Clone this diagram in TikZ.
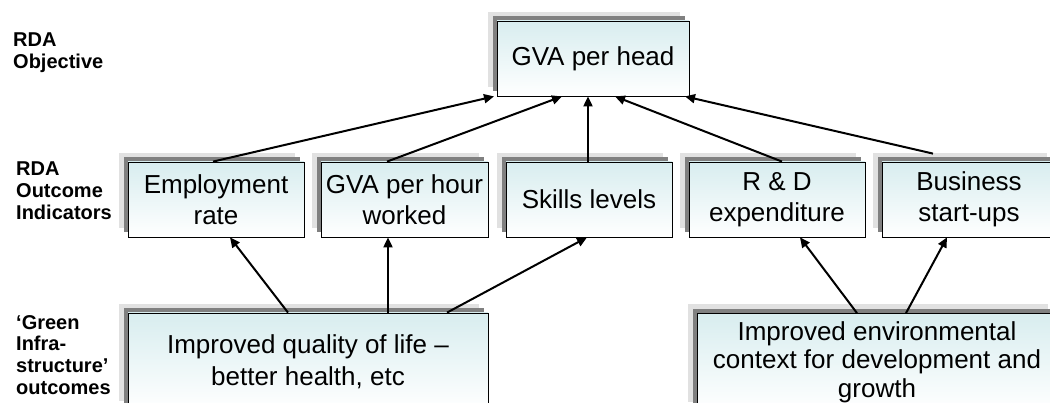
\documentclass[tikz,border=0pt]{standalone}
\usepackage{fontspec}
\setmainfont{Liberation Sans}
\usetikzlibrary{arrows.meta,shadows,calc}

\definecolor{boxtop}{RGB}{216,237,239}
\definecolor{shadowlight}{RGB}{225,225,225}
\definecolor{shadowdark}{RGB}{128,128,128}

\tikzset{
  measure/.style={draw=black, line width=0.8pt, top color=boxtop, bottom color=white,
    inner sep=0pt, align=center,
    general shadow={fill=shadowlight, shadow xshift=-9pt, shadow yshift=9pt},
    general shadow={fill=shadowdark, shadow xshift=-4.5pt, shadow yshift=4.5pt}},
  midbox/.style={measure, minimum height=75pt, font=\fontsize{26}{31}\selectfont},
  greenbox/.style={measure, minimum width=360pt, minimum height=97pt},
  tier/.style={anchor=north west, inner sep=0pt, align=left,
    font=\bfseries\fontsize{20}{21.7}\selectfont},
  link/.style={line width=2pt, -{Triangle[length=10pt,width=9pt]}},
}

\begin{document}
\begin{tikzpicture}[x=1pt,y=-1pt]
\useasboundingbox (0,0) rectangle (1050,403);
\clip (0,0) rectangle (1050,403);

% tier labels
\node[tier] (lobj) at (13,32.5) {RDA\\Objective};
\node[tier] (lind) at (16,162) {RDA\\Outcome\\Indicators};
\node[tier] (lgi)  at (16,315) {‘Green\\Infra-\\structure’\\outcomes};

% objective
\node[midbox, minimum width=192pt] (head) at (593,58.5) {GVA per head};

% outcome indicators
\node[midbox, minimum width=176pt] (emp)    at (216,199.5) {Employment\\rate};
\node[midbox, minimum width=167pt] (gvah)   at (404.5,199.5) {GVA per hour\\worked};
\node[midbox, minimum width=166pt] (skills) at (589,199.5) {Skills levels};
\node[midbox, minimum width=176pt] (rd)     at (777,199.5) {R \& D\\expenditure};
\node[midbox, minimum width=174pt] (bus)    at (969,199.5) {Business\\start-ups};

% green infrastructure outcomes
\node[greenbox, font=\fontsize{26}{32}\selectfont] (qol) at (308,361.5)
  {Improved quality of life \textendash\\better health, etc};
\node[greenbox, font=\fontsize{26}{28.5}\selectfont] (env) at (877,362)
  {Improved environmental\\context for development and\\growth};

% indicators feeding the objective
\draw[link] ($(emp.north)+(-3,0)$)     -- ($(head.south)+(-99,0)$);
\draw[link] ($(gvah.north)+(-17.5,0)$) -- ($(head.south)+(-31,0)$);
\draw[link] ($(skills.north)+(-1,0)$)  -- ($(head.south)+(-5,0)$);
\draw[link] ($(rd.north)+(5,0)$)       -- ($(head.south)+(22,0)$);
\draw[link] ($(bus.north)+(-36,-8)$)   -- ($(head.south)+(92,0)$);

% outcomes feeding the indicators
\draw[link] ($(qol.north)+(-20,0)$) -- ($(emp.south)+(14,0)$);
\draw[link] ($(qol.north)+(80,0)$)  -- ($(gvah.south)+(-16.5,0)$);
\draw[link] ($(qol.north)+(139,0)$) -- ($(skills.south)+(-2,0)$);
\draw[link] ($(env.north)+(-20,0)$) -- ($(rd.south)+(23,0)$);
\draw[link] ($(env.north)+(29,0)$)  -- ($(bus.south)+(-22,0)$);
\end{tikzpicture}
\end{document}
